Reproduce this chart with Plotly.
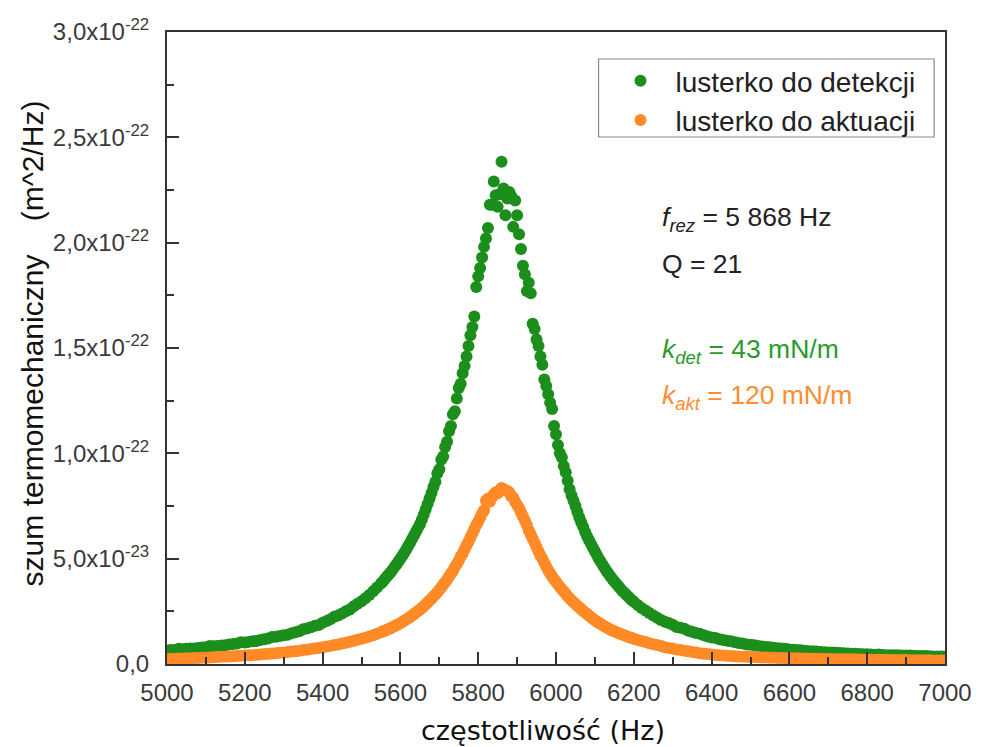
import plotly.graph_objects as go

# ---------------- data (values in units of 1e-23 m^2/Hz) ----------------
FREQ = [
    5000, 5010, 5020, 5030, 5040, 5050, 5060, 5070, 5080, 5090,
    5100, 5110, 5120, 5130, 5140, 5150, 5160, 5170, 5180, 5190,
    5200, 5210, 5220, 5230, 5240, 5250, 5260, 5270, 5280, 5290,
    5300, 5310, 5320, 5330, 5340, 5350, 5360, 5370, 5380, 5390,
    5400, 5410, 5420, 5430, 5440, 5450, 5460, 5470, 5480, 5490,
    5500, 5510, 5520, 5530, 5540, 5550, 5560, 5570, 5580, 5590,
    5600, 5610, 5620, 5630, 5640, 5650, 5660, 5670, 5680, 5690,
    5695, 5700, 5705, 5710, 5715, 5720, 5725, 5730, 5735, 5740, 5745, 5750, 5755,
    5760, 5765, 5770, 5775, 5780, 5785, 5790, 5795, 5800, 5805, 5810, 5815, 5820,
    5825, 5830, 5835, 5840, 5845, 5850, 5855, 5860, 5865, 5870, 5875, 5880, 5885,
    5890, 5895, 5900, 5905, 5910, 5915, 5920, 5925, 5930, 5935, 5940, 5945, 5950,
    5955, 5960, 5965, 5970, 5975, 5980, 5985, 5990, 5995, 6000, 6005, 6010, 6015,
    6020, 6025, 6030, 6035, 6040,
    6050, 6060, 6070, 6080, 6090, 6100, 6110, 6120, 6130, 6140,
    6150, 6160, 6170, 6180, 6190, 6200, 6210, 6220, 6230, 6240, 6250,
    6260, 6270, 6280, 6290, 6300, 6310, 6320, 6330, 6340, 6350,
    6360, 6370, 6380, 6390, 6400, 6410, 6420, 6430, 6440, 6450,
    6460, 6470, 6480, 6490, 6500, 6510, 6520, 6530, 6540, 6550,
    6560, 6570, 6580, 6590, 6600, 6610, 6620, 6630, 6640, 6650,
    6660, 6670, 6680, 6690, 6700, 6710, 6720, 6730, 6740, 6750,
    6760, 6770, 6780, 6790, 6800, 6810, 6820, 6830, 6840, 6850,
    6860, 6870, 6880, 6890, 6900, 6910, 6920, 6930, 6940, 6950,
    6960, 6970, 6980, 6990, 7000,
]

DETEKCJA = [
    0.64, 0.66, 0.67, 0.72, 0.70, 0.72, 0.73, 0.73, 0.76, 0.78,
    0.80, 0.85, 0.84, 0.86, 0.88, 0.89, 0.93, 0.95, 0.97, 1.03,
    1.02, 1.05, 1.08, 1.09, 1.14, 1.17, 1.21, 1.28, 1.29, 1.33,
    1.37, 1.39, 1.46, 1.51, 1.56, 1.65, 1.68, 1.74, 1.81, 1.85,
    1.96, 2.04, 2.12, 2.24, 2.30, 2.40, 2.50, 2.59, 2.74, 2.86,
    2.98, 3.12, 3.28, 3.45, 3.63, 3.82, 4.03, 4.25, 4.48, 4.74,
    5.00, 5.28, 5.60, 5.93, 6.28, 6.62, 7.08, 7.60, 8.12, 8.65,
    9.05, 9.25, 9.70, 9.85, 10.30, 10.55, 11.05, 11.30, 11.85, 12.00, 12.60, 13.10, 13.30,
    13.80, 14.15, 14.60, 15.10, 15.60, 16.00, 16.50, 17.90, 18.40, 18.80, 19.30, 19.80, 20.20,
    20.70, 21.80, 21.80, 22.90, 22.25, 21.70, 22.30, 23.84, 22.57, 21.30, 22.10, 22.40, 22.20,
    20.75, 22.00, 21.30, 20.40, 19.70, 18.90, 18.50, 17.70, 18.10, 17.60, 16.15, 15.90, 15.40,
    15.10, 14.60, 14.20, 13.50, 13.20, 12.80, 12.40, 12.10, 11.30, 10.90, 10.40, 10.00, 9.80,
    9.40, 9.10, 8.70, 8.30, 8.00,
    7.50, 6.95, 6.50, 6.05, 5.70, 5.35, 5.00, 4.70, 4.42, 4.15,
    3.92, 3.70, 3.48, 3.30, 3.12, 2.95, 2.80, 2.66, 2.54, 2.42, 2.30,
    2.20, 2.09, 2.00, 1.95, 1.86, 1.76, 1.72, 1.67, 1.58, 1.53,
    1.47, 1.43, 1.36, 1.31, 1.26, 1.24, 1.18, 1.14, 1.10, 1.08,
    1.03, 1.00, 0.97, 0.92, 0.91, 0.89, 0.86, 0.83, 0.81, 0.80,
    0.77, 0.75, 0.73, 0.72, 0.69, 0.68, 0.66, 0.65, 0.63, 0.61,
    0.60, 0.59, 0.57, 0.56, 0.55, 0.55, 0.53, 0.52, 0.51, 0.50,
    0.49, 0.49, 0.47, 0.46, 0.46, 0.45, 0.44, 0.45, 0.43, 0.42,
    0.42, 0.42, 0.41, 0.40, 0.40, 0.40, 0.39, 0.38, 0.38, 0.38,
    0.37, 0.36, 0.36, 0.36, 0.35,
]

AKTUACJA = [
    0.24, 0.24, 0.25, 0.26, 0.26, 0.27, 0.27, 0.28, 0.29, 0.30,
    0.30, 0.31, 0.32, 0.33, 0.34, 0.35, 0.36, 0.37, 0.38, 0.39,
    0.40, 0.41, 0.42, 0.44, 0.45, 0.47, 0.48, 0.50, 0.51, 0.53,
    0.55, 0.57, 0.59, 0.61, 0.63, 0.66, 0.68, 0.71, 0.73, 0.76,
    0.79, 0.83, 0.86, 0.90, 0.93, 0.97, 1.01, 1.06, 1.10, 1.15,
    1.20, 1.25, 1.31, 1.37, 1.44, 1.51, 1.58, 1.66, 1.75, 1.84,
    1.94, 2.05, 2.17, 2.30, 2.44, 2.58, 2.74, 2.92, 3.10, 3.30,
    3.40, 3.52, 3.63, 3.76, 3.88, 4.00, 4.15, 4.30, 4.42, 4.60, 4.75, 4.90, 5.10,
    5.25, 5.45, 5.62, 5.80, 6.00, 6.20, 6.40, 6.60, 6.75, 6.95, 7.15, 7.30, 7.75,
    7.85, 7.70, 7.90, 8.05, 8.15, 8.10, 8.25, 8.35, 8.30, 8.25, 8.20, 8.15, 7.95,
    7.90, 7.70, 7.55, 7.40, 7.20, 7.00, 6.80, 6.60, 6.35, 6.15, 5.95, 5.75, 5.55,
    5.35, 5.15, 5.00, 4.80, 4.62, 4.45, 4.30, 4.15, 4.02, 3.90, 3.78, 3.66, 3.55,
    3.44, 3.33, 3.22, 3.12, 3.02,
    2.85, 2.68, 2.52, 2.37, 2.22, 2.08, 1.95, 1.84, 1.73, 1.63,
    1.55, 1.47, 1.40, 1.33, 1.26, 1.20, 1.14, 1.09, 1.04, 0.99, 0.94,
    0.90, 0.85, 0.80, 0.76, 0.73, 0.69, 0.66, 0.63, 0.60, 0.57,
    0.54, 0.51, 0.49, 0.47, 0.45, 0.43, 0.42, 0.40, 0.39, 0.38,
    0.37, 0.36, 0.35, 0.34, 0.33, 0.33, 0.32, 0.31, 0.31, 0.30,
    0.30, 0.29, 0.29, 0.28, 0.28, 0.27, 0.27, 0.26, 0.26, 0.25,
    0.25, 0.25, 0.24, 0.24, 0.24, 0.23, 0.23, 0.23, 0.22, 0.22,
    0.22, 0.22, 0.21, 0.21, 0.21, 0.21, 0.20, 0.20, 0.20, 0.20,
    0.19, 0.19, 0.19, 0.19, 0.19, 0.18, 0.18, 0.18, 0.18, 0.18,
    0.18, 0.17, 0.17, 0.17, 0.17,
]

# additional readings on the steep flanks (between the 10 Hz samples above)
FREQ_FLANK = [
    5555, 5565, 5575, 5585, 5595, 5605, 5615, 5625, 5635, 5645, 5655, 5665, 5675, 5685,
    6045, 6055, 6065, 6075, 6085, 6095, 6105, 6115, 6125, 6135, 6145, 6155, 6165, 6175,
    6185, 6195,
]
DETEKCJA_FLANK = [
    3.92, 4.14, 4.36, 4.61, 4.87, 5.14, 5.44, 5.76, 6.10, 6.45, 6.85, 7.34, 7.86, 8.40,
    7.75, 7.22, 6.72, 6.27, 5.87, 5.52, 5.17, 4.85, 4.56, 4.28, 4.03, 3.81, 3.59, 3.39,
    3.21, 3.03,
]
AKTUACJA_FLANK = [
    1.55, 1.62, 1.70, 1.80, 1.89, 2.00, 2.11, 2.23, 2.37, 2.51, 2.66, 2.83, 3.01, 3.20,
    2.93, 2.76, 2.60, 2.44, 2.29, 2.15, 2.01, 1.90, 1.78, 1.68, 1.59, 1.51, 1.43, 1.36,
    1.29, 1.23,
]
UNIT = 1e-23

SERIES_NAMES = ["lusterko do detekcji", "lusterko do aktuacji"]

X_TICKS = [5000, 5200, 5400, 5600, 5800, 6000, 6200, 6400, 6600, 6800, 7000]
X_MINOR = [5100, 5300, 5500, 5700, 5900, 6100, 6300, 6500, 6700, 6900]
Y_TICKS = [0, 5e-23, 1e-22, 1.5e-22, 2e-22, 2.5e-22, 3e-22]
Y_LABELS = ["0,0", "5,0x10<sup>-23</sup>", "1,0x10<sup>-22</sup>", "1,5x10<sup>-22</sup>",
            "2,0x10<sup>-22</sup>", "2,5x10<sup>-22</sup>", "3,0x10<sup>-22</sup>"]
Y_MINOR = [2.5e-23, 7.5e-23, 1.25e-22, 1.75e-22, 2.25e-22, 2.75e-22]

assert len(FREQ) == len(DETEKCJA) == len(AKTUACJA)
assert len(FREQ_FLANK) == len(DETEKCJA_FLANK) == len(AKTUACJA_FLANK)

x_all = FREQ + FREQ_FLANK
det_all = [v * UNIT for v in DETEKCJA + DETEKCJA_FLANK]
akt_all = [v * UNIT for v in AKTUACJA + AKTUACJA_FLANK]

# ---------------- styling ----------------
GREEN = "#1c8e1c"
ORANGE = "#ff8a26"
GREEN_TXT = "#2a9a2a"
ORANGE_TXT = "#ff8c2e"
AX = "#333333"
FONT = "Liberation Sans, Arial, sans-serif"

W, H = 984, 747
L, R, T, B = 167, 31, 32, 83
PW, PH = W - L - R, H - T - B


def px(xp):
    return (xp - L) / PW


def py(yp):
    return (H - B - yp) / PH


fig = go.Figure()
fig.add_trace(go.Scatter(
    x=x_all, y=det_all, mode="markers", name=SERIES_NAMES[0],
    marker=dict(color=GREEN, size=12, line=dict(width=0)),
))
fig.add_trace(go.Scatter(
    x=x_all, y=akt_all, mode="markers", name=SERIES_NAMES[1],
    marker=dict(color=ORANGE, size=12, line=dict(width=0)),
))

fig.update_layout(
    width=W, height=H,
    margin=dict(l=L, r=R, t=T, b=B, pad=0),
    paper_bgcolor="white", plot_bgcolor="white",
    font=dict(family=FONT, color=AX),
    showlegend=True,
    legend=dict(
        x=px(610), y=py(56), xanchor="left", yanchor="top",
        bgcolor="rgba(0,0,0,0)", borderwidth=0,
        font=dict(family=FONT, size=28, color="#222222"),
        itemwidth=60, tracegroupgap=0, itemsizing="trace",
    ),
)

fig.update_xaxes(
    range=[5000, 7000], tickmode="array", tickvals=X_TICKS,
    ticktext=[str(v) for v in X_TICKS],
    ticks="inside", ticklen=12, tickwidth=1.6, tickcolor=AX,
    minor=dict(tickmode="array", tickvals=X_MINOR, ticks="inside", ticklen=7,
               tickwidth=1.6, tickcolor=AX, showgrid=False),
    showline=True, linecolor=AX, linewidth=2, mirror=True,
    showgrid=False, zeroline=False,
    tickfont=dict(family=FONT, size=24, color="#3a3a3a"),
    ticklabelstandoff=6,
)
fig.update_yaxes(
    range=[0, 3e-22], tickmode="array", tickvals=Y_TICKS, ticktext=Y_LABELS,
    ticks="inside", ticklen=12, tickwidth=1.6, tickcolor=AX,
    minor=dict(tickmode="array", tickvals=Y_MINOR, ticks="inside", ticklen=7,
               tickwidth=1.6, tickcolor=AX, showgrid=False),
    showline=True, linecolor=AX, linewidth=2, mirror=True,
    showgrid=False, zeroline=False,
    tickfont=dict(family=FONT, size=24, color="#3a3a3a"),
    ticklabelstandoff=11,
)

# legend frame
fig.add_shape(type="rect", xref="paper", yref="paper",
              x0=px(603), x1=px(942), y0=py(137), y1=py(59),
              line=dict(color="#8a8a8a", width=1.2), fillcolor="rgba(0,0,0,0)", layer="above")

# axis titles
fig.add_annotation(
    text="szum termomechaniczny\u00a0\u00a0\u00a0\u00a0(m^2/Hz)",
    xref="paper", yref="paper", x=px(31), y=py(343), textangle=-90,
    showarrow=False, xanchor="center", yanchor="middle",
    font=dict(family=FONT, size=30, color="#111111"),
)
fig.add_annotation(
    text="częstotliwość (Hz)",
    xref="paper", yref="paper", x=px(547), y=py(730),
    showarrow=False, xanchor="center", yanchor="middle",
    font=dict(family="DejaVu Sans, Verdana, sans-serif", size=27, color="#111111"),
)

# parameter annotations
ann_font = dict(family=FONT, size=26.5)
fig.add_annotation(text="<i>f</i><sub><i>rez</i></sub> = 5 868 Hz", xref="paper", yref="paper",
                   x=px(665), y=py(219), xanchor="left", yanchor="middle", showarrow=False,
                   font=dict(**ann_font, color="#222222"))
fig.add_annotation(text="Q = 21", xref="paper", yref="paper",
                   x=px(665), y=py(264), xanchor="left", yanchor="middle", showarrow=False,
                   font=dict(**ann_font, color="#222222"))
fig.add_annotation(text="<i>k</i><sub><i>det</i></sub> = 43 mN/m", xref="paper", yref="paper",
                   x=px(665), y=py(351), xanchor="left", yanchor="middle", showarrow=False,
                   font=dict(**ann_font, color=GREEN_TXT))
fig.add_annotation(text="<i>k</i><sub><i>akt</i></sub> = 120 mN/m", xref="paper", yref="paper",
                   x=px(665), y=py(397), xanchor="left", yanchor="middle", showarrow=False,
                   font=dict(**ann_font, color=ORANGE_TXT))

fig.write_html("out.html")
